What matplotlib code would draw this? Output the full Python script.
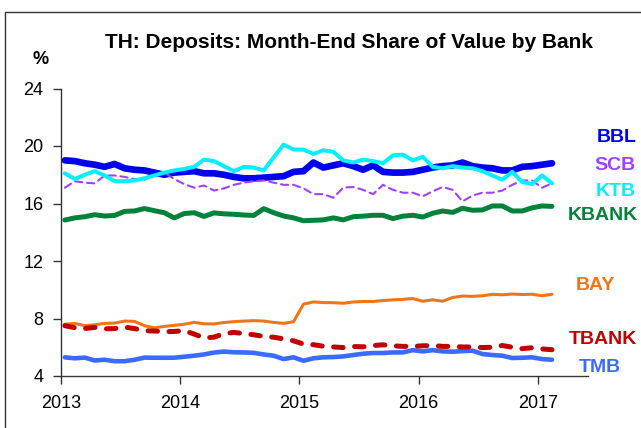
import matplotlib
matplotlib.use("Agg")
import matplotlib.pyplot as plt
from matplotlib.patches import Rectangle
import numpy as np

plt.rcParams['font.family'] = ['Liberation Sans', 'DejaVu Sans']

# Monthly observations, Jan 2013 .. Feb 2017
start_year = 2013
bbl = [19.0, 18.95, 18.8, 18.7, 18.55, 18.75, 18.45, 18.35, 18.3, 18.15,
       18.0, 18.15, 18.2, 18.25, 18.1, 18.1, 18.0, 17.85, 17.75, 17.75,
       17.8, 17.85, 17.9, 18.2, 18.25, 18.85, 18.5, 18.65, 18.8, 18.6,
       18.35, 18.65, 18.2, 18.15, 18.15, 18.2, 18.35, 18.5, 18.6, 18.65,
       18.85, 18.6, 18.5, 18.45, 18.3, 18.3, 18.55, 18.6, 18.7, 18.8]
scb = [17.1, 17.55, 17.45, 17.4, 17.95, 17.95, 17.85, 17.7, 17.65, 18.0,
       18.15, 17.7, 17.35, 17.1, 17.25, 16.9, 17.05, 17.3, 17.45, 17.55,
       17.6, 17.45, 17.3, 17.3, 17.05, 16.65, 16.65, 16.4, 17.1, 17.15,
       16.95, 16.65, 17.3, 16.95, 16.75, 16.75, 16.5, 16.85, 17.15, 16.95,
       16.15, 16.55, 16.75, 16.75, 16.9, 17.3, 17.6, 17.6, 17.1, 17.4]
ktb = [18.1, 17.7, 18.0, 18.25, 17.95, 17.55, 17.55, 17.6, 17.75, 17.95,
       18.15, 18.3, 18.4, 18.55, 19.05, 18.95, 18.6, 18.25, 18.55, 18.5,
       18.3, 19.2, 20.1, 19.75, 19.75, 19.45, 19.7, 19.6, 19.0, 18.85,
       19.05, 18.95, 18.8, 19.35, 19.4, 19.0, 19.25, 18.55, 18.45, 18.6,
       18.5, 18.45, 18.25, 17.95, 17.65, 18.2, 17.5, 17.35, 17.95, 17.4]
kbank = [14.85, 15.0, 15.08, 15.22, 15.13, 15.17, 15.45, 15.48, 15.65, 15.5,
         15.36, 15.0, 15.3, 15.36, 15.1, 15.35, 15.28, 15.25, 15.2, 15.17,
         15.64, 15.36, 15.13, 15.0, 14.8, 14.83, 14.86, 15.0, 14.86, 15.08,
         15.12, 15.18, 15.18, 14.95, 15.12, 15.18, 15.06, 15.32, 15.48, 15.38,
         15.67, 15.53, 15.55, 15.83, 15.83, 15.48, 15.48, 15.7, 15.83, 15.8]
bay = [7.6, 7.66, 7.5, 7.56, 7.66, 7.68, 7.82, 7.8, 7.5, 7.35,
       7.45, 7.52, 7.6, 7.73, 7.63, 7.62, 7.72, 7.78, 7.82, 7.85,
       7.82, 7.73, 7.66, 7.78, 9.0, 9.15, 9.11, 9.1, 9.06, 9.15,
       9.18, 9.18, 9.25, 9.3, 9.33, 9.39, 9.2, 9.3, 9.2, 9.46,
       9.56, 9.54, 9.58, 9.68, 9.65, 9.7, 9.67, 9.69, 9.58, 9.69]
tbank = [7.5, 7.36, 7.3, 7.38, 7.28, 7.3, 7.4, 7.3, 7.15, 7.13,
         7.08, 7.1, 7.15, 6.92, 6.65, 6.7, 6.95, 7.03, 6.95, 6.87,
         6.75, 6.7, 6.58, 6.45, 6.22, 6.18, 6.07, 6.02, 5.98, 6.05,
         6.03, 6.12, 6.17, 6.1, 6.06, 6.06, 6.1, 6.12, 6.06, 6.06,
         6.02, 6.02, 5.98, 6.0, 6.12, 6.0, 5.9, 5.97, 5.88, 5.83]
tmb = [5.3, 5.23, 5.28, 5.08, 5.13, 5.03, 5.03, 5.13, 5.28, 5.27,
       5.27, 5.27, 5.34, 5.41, 5.5, 5.63, 5.7, 5.65, 5.64, 5.61,
       5.5, 5.41, 5.18, 5.3, 5.06, 5.23, 5.3, 5.32, 5.36, 5.46,
       5.55, 5.6, 5.6, 5.64, 5.64, 5.8, 5.71, 5.8, 5.71, 5.69,
       5.73, 5.76, 5.53, 5.46, 5.41, 5.25, 5.27, 5.3, 5.18, 5.13]

banks = ["BBL", "SCB", "KTB", "KBANK", "BAY", "TBANK", "TMB"]
y_ticks = [4, 8, 12, 16, 20, 24]
x_ticks = [2013, 2014, 2015, 2016, 2017]
title = "TH: Deposits: Month-End Share of Value by Bank"

W, H = 641, 428
fig = plt.figure(figsize=(W / 100, H / 100), dpi=100)
ax = fig.add_axes([60.7 / W, 1 - 376 / H, (588 - 60.7) / W, (376 - 88.5) / H])

n = len(bbl)
x = start_year + (np.arange(n) + 0.42) / 12.0

styles = {
    "BBL":   dict(color="#0000EE", lw=4.8, ls="-"),
    "SCB":   dict(color="#A040FF", lw=1.5, ls=(0, (3.5, 2.3))),
    "KTB":   dict(color="#00F0FF", lw=2.9, ls="-"),
    "KBANK": dict(color="#00823B", lw=3.6, ls="-"),
    "BAY":   dict(color="#EE7518", lw=2.2, ls="-"),
    "TBANK": dict(color="#C00000", lw=3.6, ls=(0, (1.9, 2.3))),
    "TMB":   dict(color="#3A6BFF", lw=3.3, ls="-"),
}
series = {"BBL": bbl, "SCB": scb, "KTB": ktb, "KBANK": kbank,
          "BAY": bay, "TBANK": tbank, "TMB": tmb}

for name in ["BBL", "SCB", "KTB", "KBANK", "BAY", "TMB", "TBANK"]:
    st = styles[name]
    ax.plot(x, series[name], color=st["color"], lw=st["lw"], ls=st["ls"],
            solid_capstyle="round", dash_capstyle="round",
            solid_joinstyle="round")

ax.set_xlim(2013, 2017.42)
ax.set_ylim(4, 24)
ax.set_yticks(y_ticks)
ax.set_xticks(x_ticks)
ax.set_xticklabels([str(v) for v in x_ticks])
ax.spines["top"].set_visible(False)
ax.spines["right"].set_visible(False)
for s in ["left", "bottom"]:
    ax.spines[s].set_color("#333333")
    ax.spines[s].set_linewidth(1.0)
ax.tick_params(axis="both", labelsize=13, length=5.5, width=1.0,
               color="#333333", direction="out")
ax.tick_params(axis="y", pad=7)
ax.tick_params(axis="x", pad=8)
ax.patch.set_alpha(0)

fig.text(349 / W, 1 - 42 / H, title, ha="center", va="center",
         fontsize=15, fontweight="bold", color="black")
fig.text(41 / W, 1 - 59 / H, "%", ha="center", va="center",
         fontsize=13, fontweight="bold")

label_pos = {
    "BBL": (617, 137), "SCB": (615, 165), "KTB": (616, 191),
    "KBANK": (603, 216), "BAY": (595, 285), "TBANK": (603, 340),
    "TMB": (600, 367),
}
for name in banks:
    px, py = label_pos[name]
    fig.text(px / W, 1 - py / H, name, ha="center", va="center",
             fontsize=14, fontweight="bold", color=styles[name]["color"])

fig.patches.append(Rectangle((5 / W, -0.1), 1.2, 1 - 12 / H + 0.1,
                             transform=fig.transFigure, fill=False,
                             edgecolor="#333333", lw=1.0))

fig.savefig("out.png", dpi=100)
